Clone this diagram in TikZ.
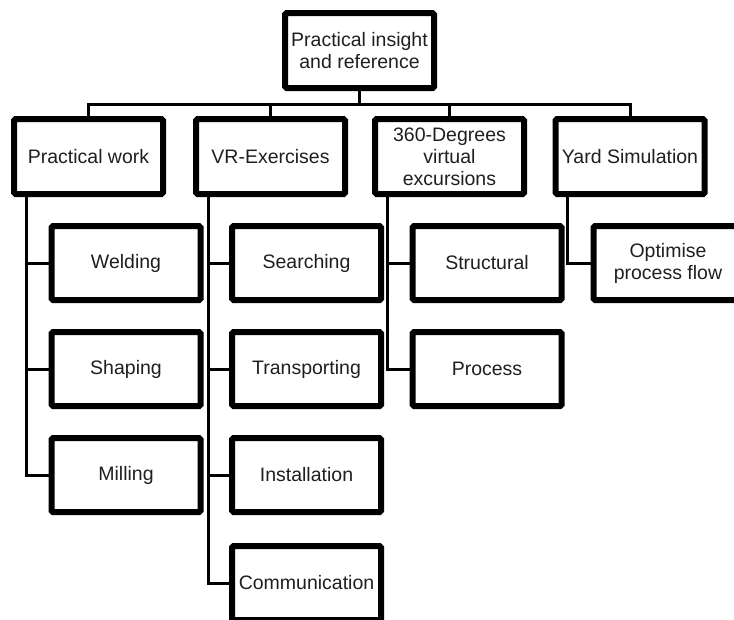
\documentclass[tikz,border=0pt]{standalone}
\usepackage{fontspec}
\setmainfont{Liberation Sans}
\usetikzlibrary{shadows}
\pgfdeclarelayer{bg}
\pgfsetlayers{bg,main}
\begin{document}
\begin{tikzpicture}[x=1pt,y=-1pt,
  box/.style={draw=black, line width=6pt, fill=white, rounded corners=1.5pt,
    minimum width=149pt, minimum height=75pt, inner sep=1pt, align=center,
    text=black!88, font=\fontsize{19.5}{22}\selectfont,
    drop shadow={opacity=0.25, shadow xshift=1.5pt, shadow yshift=-1.5pt}},
  kid/.style={box, minimum height=74pt},
  conn/.style={draw=black, line width=3pt}]
\clip (0,0) rectangle (734,619);
\useasboundingbox (0,0) rectangle (734,619);
% top
\node[box] (top) at (359.5,50.5) {Practical insight\\and reference};
% parents
\node[box] (pw) at (88.5,156.5) {Practical work};
\node[box] (vr) at (270.5,156.5) {VR-Exercises};
\node[box] (deg) at (449.5,156.5) {360-Degrees\\virtual\\excursions};
\node[box] (yard) at (630,156.5) {Yard Simulation};
% children
\node[kid] (weld) at (126,263) {Welding};
\node[kid] (shape) at (126,369) {Shaping};
\node[kid] (mill) at (126,475) {Milling};
\node[kid] (search) at (306.5,263) {Searching};
\node[kid] (trans) at (306.5,369) {Transporting};
\node[kid] (inst) at (306.5,475) {Installation};
\node[kid] (comm) at (306.5,583) {Communication};
\node[kid] (struct) at (487,263) {Structural};
\node[kid] (proc) at (487,369) {Process};
\node[kid] (opt) at (668,263) {Optimise\\process flow};
% connectors behind the boxes
\coordinate (bus) at (359.5,104.5);
\begin{pgfonlayer}{bg}
\path[conn] (top.south) -- (bus);
\path[conn] (pw.north) |- (bus) -| (yard.north);
\path[conn] (vr.north) -- (vr.north |- bus);
\path[conn] (deg.north) -- (deg.north |- bus);
\foreach \p/\c in {pw/weld, pw/shape, pw/mill, vr/search, vr/trans, vr/inst, vr/comm, deg/struct, deg/proc, yard/opt}{
  \path[conn] ([xshift=15pt]\p.south west) |- (\c.west);
}
\end{pgfonlayer}
\end{tikzpicture}
\end{document}
